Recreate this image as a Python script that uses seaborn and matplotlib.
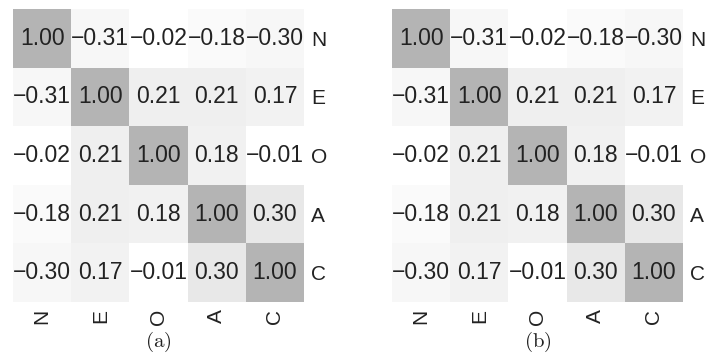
import numpy as np
import pandas as pd
import matplotlib
matplotlib.use("Agg")
import matplotlib.pyplot as plt
from matplotlib.colors import LinearSegmentedColormap
import seaborn as sns

# Big Five trait correlations (same matrix in both panels)
traits = ["N", "E", "O", "A", "C"]
row_n = [1.00, -0.31, -0.02, -0.18, -0.30]
row_e = [-0.31, 1.00, 0.21, 0.21, 0.17]
row_o = [-0.02, 0.21, 1.00, 0.18, -0.01]
row_a = [-0.18, 0.21, 0.18, 1.00, 0.30]
row_c = [-0.30, 0.17, -0.01, 0.30, 1.00]
captions = ["(a)", "(b)"]

corr = pd.DataFrame([row_n, row_e, row_o, row_a, row_c], index=traits, columns=traits)
# use a real minus sign in the cell labels
labels = corr.map(lambda v: f"{v:.2f}".replace("-", "\u2212")).values

sns.set_theme(style="white")
plt.rcParams["font.family"] = ["Liberation Sans", "DejaVu Sans"]
plt.rcParams["mathtext.fontset"] = "cm"

# light grey for negatives, white at zero, mid grey at 1
cmap = LinearSegmentedColormap.from_list("greys_div", ["#e6e6e6", "#ffffff", "#b4b4b4"])

fig = plt.figure(figsize=(7.12, 3.6), dpi=100)
lefts = [13 / 712, 392 / 712]
for left, cap in zip(lefts, captions):
    ax = fig.add_axes([left, 58 / 360, 291 / 712, 293 / 360])
    sns.heatmap(corr, ax=ax, cmap=cmap, vmin=-1, vmax=1, cbar=False,
                annot=labels, fmt="",
                annot_kws={"fontsize": 16.5, "color": "#222222"})
    ax.yaxis.tick_right()
    ax.set_yticklabels(traits, rotation=0, fontsize=15, color="#222222")
    ax.set_xticklabels(traits, rotation=90, fontsize=15, color="#222222")
    ax.tick_params(length=0, pad=5)
    ax.set_xlabel("")
    ax.set_ylabel("")
    ax.text(0.5, -0.137, r"$\mathrm{" + cap + "}$", transform=ax.transAxes,
            ha="center", va="center", fontsize=15, color="#222222")

plt.savefig("out.png", dpi=100)
plt.close()
